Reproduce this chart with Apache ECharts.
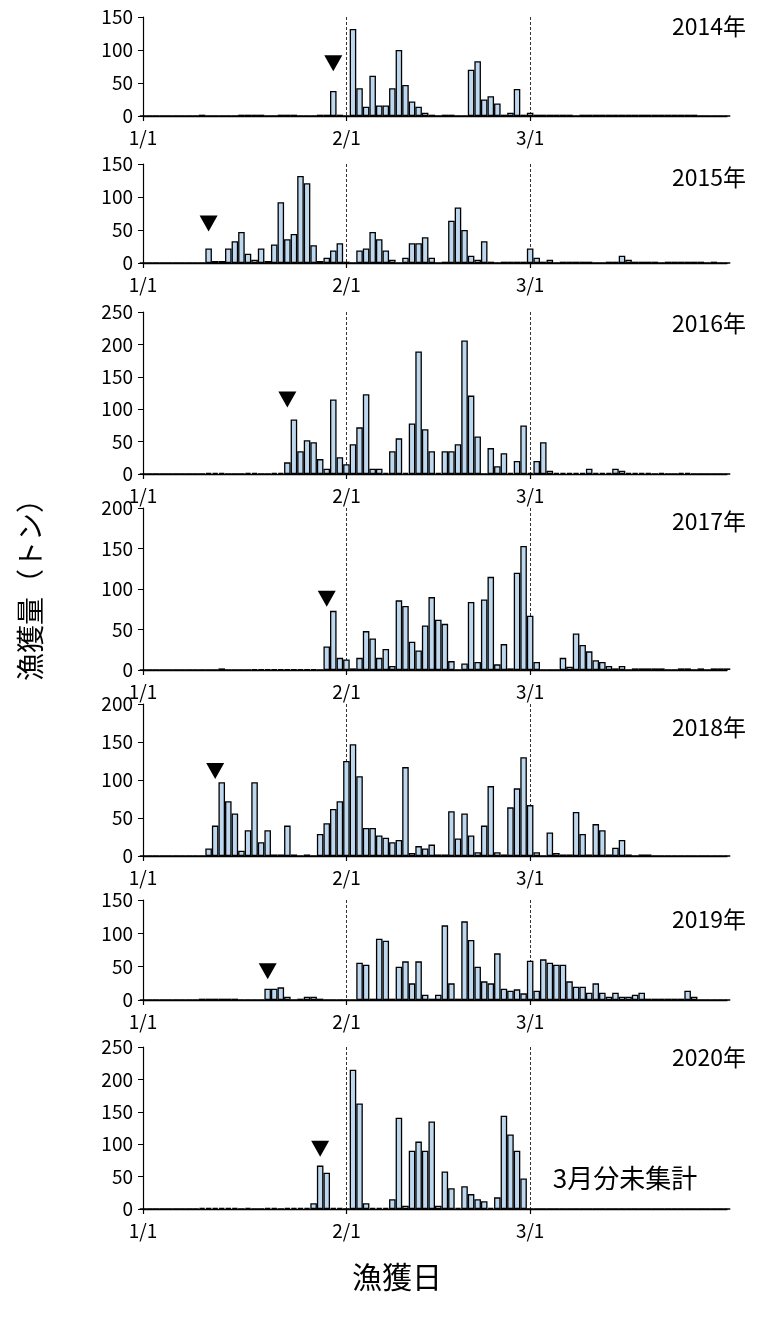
<!DOCTYPE html>
<html><head><meta charset="utf-8">
<script src="https://cdn.jsdelivr.net/npm/echarts@6/dist/echarts.min.js"></script>
<style>html,body{margin:0;padding:0;background:#fff}#c{width:758px;height:1318px}</style>
</head><body><div id="c"></div>
<script>
// ---- data ----
const yearLabels = ['2014年','2015年','2016年','2017年','2018年','2019年','2020年'];
const tickLabels = ['1/1','2/1','3/1'];
const yMax = [150,150,250,200,200,150,250];
const monthDays = [31,28,31];

const v2014 = [0,0,0,0,0,0,0,0,0,2, 0,0,0,0,0,2,2,2,2,0, 0,2,2,2,0,0,0,2,2,38, 2,0,132,42,14,61,16,16,42,100, 47,22,14,5,2,0,2,2,0,0, 70,83,25,30,19,2,5,41,2,5, 2,2,2,2,2,2,0,2,2,2, 2,2,2,2,2,2,2,2,2,2, 2,2,2,2,2,0,0,0,0,0];
const v2015 = [0,0,0,0,0,0,0,0,0,0, 22,3,3,22,33,47,14,5,22,3, 28,92,36,44,132,121,27,3,8,19, 30,2,0,19,22,47,36,19,5,0, 8,30,30,39,8,0,2,64,84,50, 11,5,33,2,0,2,2,2,2,22, 8,2,5,0,2,2,2,2,2,0, 0,2,2,11,5,2,2,2,2,0, 2,2,2,2,2,2,0,2,0,0];
const v2016 = [0,0,0,0,0,0,0,0,0,0, 2,2,2,0,0,0,2,2,0,0, 2,2,18,84,35,52,49,23,8,115, 26,15,46,72,123,8,8,2,35,55, 2,78,189,69,35,2,35,35,46,206, 121,58,0,40,12,32,2,20,75,2, 20,49,5,2,2,2,2,2,8,2, 2,2,8,5,2,2,2,2,0,2, 0,0,2,2,0,0,0,0,0,0];
const v2017 = [0,0,0,0,0,0,0,0,0,0, 0,0,2,0,0,0,0,1,1,1, 1,1,1,1,1,1,1,0,29,73, 15,13,2,15,48,39,15,26,5,86, 79,35,24,55,90,62,57,11,0,8, 84,10,87,115,7,32,2,120,153,67, 10,0,0,0,15,4,45,31,23,12, 10,5,2,5,0,2,2,2,2,2, 0,0,2,2,0,2,0,2,2,2];
const v2018 = [0,0,0,0,0,0,0,0,0,0, 10,40,97,72,56,7,34,97,18,34, 2,2,40,2,0,2,0,29,43,62, 72,125,147,105,37,37,27,24,18,21, 117,4,13,10,15,2,2,59,23,56, 27,5,40,92,5,2,64,89,130,67, 5,0,31,4,2,2,58,29,2,42, 34,2,11,21,2,0,2,2,0,0, 0,0,0,0,0,0,0,0,0,0];
const v2019 = [0,0,0,0,0,0,0,0,0,2, 2,2,2,2,2,0,0,0,0,17, 17,19,5,0,2,5,5,2,0,0, 0,0,0,56,53,2,92,89,2,50, 58,25,58,8,2,8,112,25,2,118, 90,50,28,25,70,17,14,16,10,59, 14,61,56,53,53,28,20,20,11,25, 11,5,11,5,5,8,11,2,2,2, 2,2,2,14,5,0,0,0,0,0];
const v2020 = [0,0,0,0,0,0,0,0,0,2, 2,2,2,2,2,0,2,0,0,2, 2,0,2,2,2,2,9,67,56,2, 2,0,215,163,9,2,2,2,15,141, 5,90,104,90,135,5,58,32,2,35, 23,15,12,2,18,144,115,90,47,0, 0,0,0,0,0,0,0,0,0,0, 0,0,0,0,0,0,0,0,0,0, 0,0,0,0,0,0,0,0,0,0];
const seriesValues = [v2014,v2015,v2016,v2017,v2018,v2019,v2020];
// ▼ markers: [day index, value]
const markers = [[29,80],[10,60],[22,115],[28,88],[11,112],[19,43],[27,93]];
const noteText = '3月分未集計';
const yName = '漁獲量（トン）';
const xName = '漁獲日';

// ---- categories (dates 1/1 .. 3/31) ----
const categories = [];
monthDays.forEach((n, m) => { for (let d = 1; d <= n; d++) categories.push((m + 1) + '/' + d); });

// ---- layout ----
const FONT = '"Noto Sans CJK JP", "Noto Sans", sans-serif';
const panelTop = [17,164,312,508,704,900,1047];
const panelZero = [116,263,474,670,856,1000,1209];
const titleY = [26,177,323,521,727,919,1057];
const gridLeft = 143, gridRight = 31;

const showTick = (i, v) => tickLabels.indexOf(v) >= 0;

const grids = [], xAxes = [], yAxes = [], series = [], graphics = [];
seriesValues.forEach((vals, i) => {
  grids.push({left: gridLeft, right: gridRight, top: panelTop[i], height: panelZero[i] - panelTop[i]});
  xAxes.push({
    type: 'category', gridIndex: i, data: categories, boundaryGap: false,
    axisLine: {lineStyle: {color: '#000', width: 1.3}},
    axisTick: {show: true, interval: showTick, length: 5, lineStyle: {color: '#000', width: 1.2}},
    axisLabel: {interval: showTick, color: '#000', fontSize: 19, fontFamily: FONT, margin: 12},
    splitLine: {show: true, interval: (idx, v) => v === tickLabels[1] || v === tickLabels[2],
      lineStyle: {color: '#333', width: 1, type: [3, 2]}}
  });
  yAxes.push({
    type: 'value', gridIndex: i, min: 0, max: yMax[i], interval: 50,
    axisLine: {show: true, lineStyle: {color: '#000', width: 1.2}},
    axisTick: {show: true, length: 5, lineStyle: {color: '#000'}},
    axisLabel: {color: '#000', fontSize: 19, fontFamily: FONT, margin: 10},
    splitLine: {show: false}
  });
  series.push({
    type: 'bar', xAxisIndex: i, yAxisIndex: i, data: vals, barCategoryGap: '0%',
    itemStyle: {color: '#BDD7EE', borderColor: '#000', borderWidth: 1.3},
    markPoint: {
      symbol: 'triangle', symbolRotate: 180, symbolSize: [18, 16],
      itemStyle: {color: '#000'}, label: {show: false},
      data: [{coord: [markers[i][0], markers[i][1]]}]
    }
  });
  graphics.push({type: 'text', x: 746, y: titleY[i],
    style: {text: yearLabels[i], font: '23px ' + FONT, fill: '#000', align: 'right', verticalAlign: 'middle'}});
});
graphics.push({type: 'text', x: 30, y: 583, rotation: Math.PI / 2,
  style: {text: yName, font: '28px ' + FONT, fill: '#000', align: 'center', verticalAlign: 'middle'}});
graphics.push({type: 'text', x: 397, y: 1277,
  style: {text: xName, font: '30px ' + FONT, fill: '#000', align: 'center', verticalAlign: 'middle'}});
graphics.push({type: 'text', x: 625, y: 1178,
  style: {text: noteText, font: '26px ' + FONT, fill: '#000', align: 'center', verticalAlign: 'middle'}});

const chart = echarts.init(document.getElementById('c'), null, {renderer: 'canvas'});
chart.setOption({
  animation: false, backgroundColor: '#fff',
  grid: grids, xAxis: xAxes, yAxis: yAxes, series: series, graphic: graphics
});
</script></body></html>
